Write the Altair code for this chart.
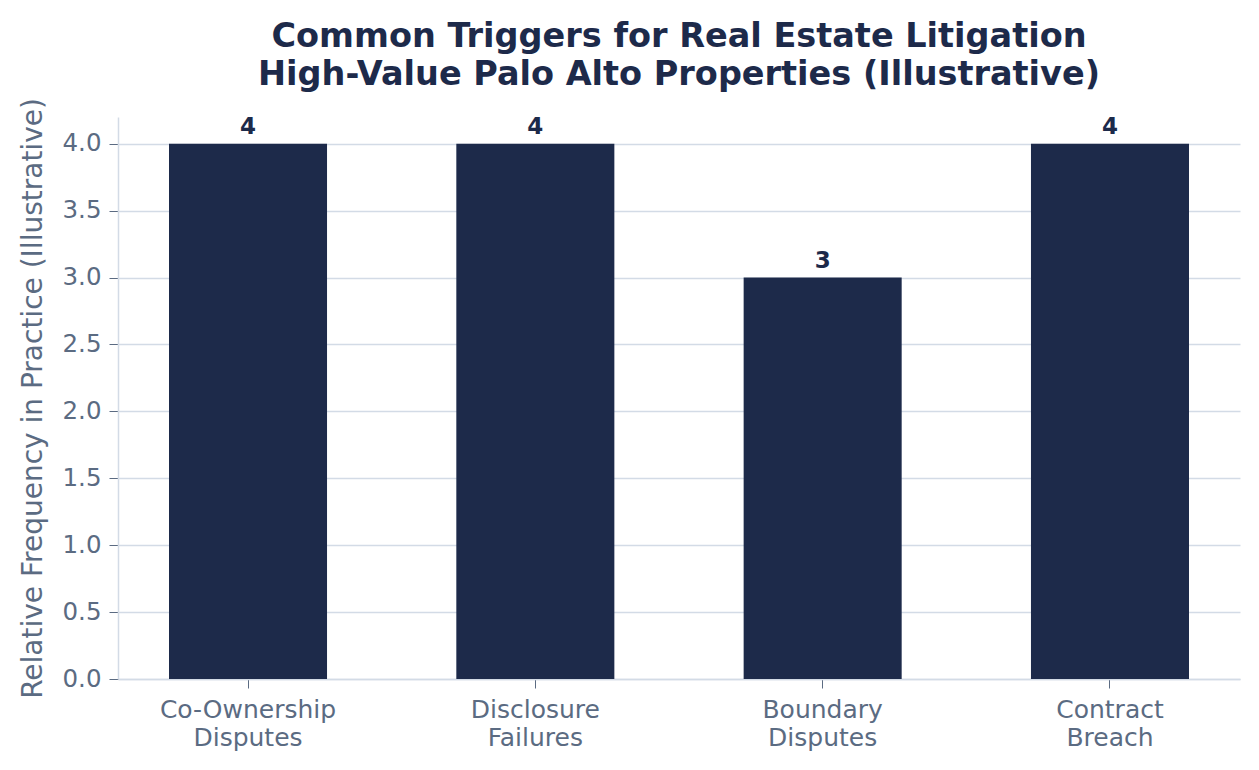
import altair as alt
import pandas as pd

categories = ["Co-Ownership Disputes", "Disclosure Failures", "Boundary Disputes", "Contract Breach"]
frequency = [4, 4, 3, 4]

df = pd.DataFrame({"Trigger": categories, "Frequency": frequency})

navy = "#1d2a4a"
grey = "#5b6b82"
light = "#d3dbe6"

x_enc = alt.X(
    "Trigger:N",
    sort=categories,
    title=None,
    scale=alt.Scale(paddingInner=0.45, paddingOuter=0.1775),
    axis=alt.Axis(
        labelExpr="split(datum.label, ' ')",
        labelAngle=0,
        labelFontSize=25,
        labelColor=grey,
        labelPadding=9,
        labelLineHeight=28,
        tickColor=grey,
        tickSize=9,
        domainColor=light,
        domainWidth=1.5,
        grid=False,
    ),
)

bars = alt.Chart(df).mark_bar(color=navy).encode(
    x=x_enc,
    y=alt.Y(
        "Frequency:Q",
        title="Relative Frequency in Practice (Illustrative)",
        scale=alt.Scale(domain=[0, 4.2], nice=False),
        axis=alt.Axis(
            values=[0, 0.5, 1, 1.5, 2, 2.5, 3, 3.5, 4],
            format=".1f",
            labelFontSize=24.5,
            labelColor=grey,
            labelPadding=8,
            tickColor=grey,
            tickSize=9,
            domainColor=light,
            domainWidth=1.5,
            gridColor=light,
            gridWidth=1.5,
            titleFontSize=28,
            titleFontWeight="normal",
            titleColor=grey,
            titlePadding=15,
        ),
    ),
)

labels = alt.Chart(df).mark_text(
    color=navy, fontSize=23, fontWeight="bold", baseline="bottom", dy=-5
).encode(
    x=alt.X("Trigger:N", sort=categories),
    y="Frequency:Q",
    text="Frequency:Q",
)

chart = (
    alt.layer(bars, labels)
    .properties(
        width=1122,
        height=562,
        autosize=alt.AutoSizeParams(type="none"),
        padding={"left": 110, "top": 109, "right": 11, "bottom": 83},
        title=alt.TitleParams(
            text=["Common Triggers for Real Estate Litigation", "High-Value Palo Alto Properties (Illustrative)"],
            fontSize=33.5,
            fontWeight="bold",
            color=navy,
            anchor="middle",
            lineHeight=38,
            offset=5,
        ),
    )
    .configure(font="DejaVu Sans")
    .configure_view(stroke=None)
)

chart.save("out.html", embed_options={"renderer": "svg", "actions": False})
